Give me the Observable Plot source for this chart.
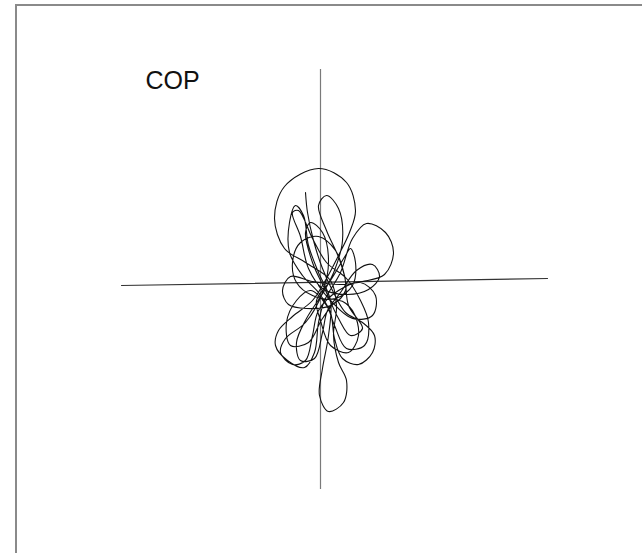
<!DOCTYPE html>
<html>
<head>
<meta charset="utf-8">
<script src="https://cdn.jsdelivr.net/npm/d3@7"></script>
<script src="https://cdn.jsdelivr.net/npm/@observablehq/plot@0.6"></script>
<style>
  html, body { margin: 0; padding: 0; background: #fff; }
  #wrap { position: relative; width: 642px; height: 553px; overflow: hidden; }
  #border { position: absolute; left: 15px; top: 4px; right: -10px; bottom: -10px;
            border-top: 2px solid #8a8a8a; border-left: 2px solid #8a8a8a; }
  #chart { position: absolute; left: 0; top: 0; }
</style>
</head>
<body>
<div id="wrap"><div id="border"></div><div id="chart"></div></div>
<script>
// Centre-of-pressure trace (arbitrary units, origin at crosshair, y up)
const copX = [-15,-13,-7,2,13,25,42,54,52,38,22,14,10,-2,-18,-31,-31,-25,-17,-12,-2,10,8,2,-1,8,23,26,18,13,16,10,-15,-36,-46,-36,-2,26,35,29,18,6,-8,-28,-42,-45,-33,-16,-6,-2,4,20,32,46,65,73,64,42,20,-8,-30,-38,-32,-14,10,25,20,6,-2,6,18,22,14,4,-14,-24,-20,-6,2,7,20,36,52,59,48,26,2,-12,-20,-28,-22,-8,6,26,40,48,44,26,14,6,-10,-24,-34,-30,-12,2,18,32,38,28,10,0,-4,10,25,30,
  35,32,15,-8,-24,-28,-20,-2,15,24,28,42,30,18,5,-8,-15,-10,2,8,2,-15,-35,-40,-28,-15,-8,-2,18,40,55,52,32,10,-2];
const copY = [91,71,43,15,-9,-29,-39,-52,-69,-81,-75,-55,-29,-9,8,31,61,78,68,38,11,-17,-52,-85,-112,-128,-119,-97,-79,-52,-22,3,21,35,65,97,115,101,73,51,28,5,-17,-33,-47,-62,-77,-84,-69,-39,-17,11,45,60,51,31,9,2,-1,2,7,-7,-21,-25,-22,-7,21,53,78,88,75,43,13,-7,-35,-59,-77,-75,-49,-27,-9,13,19,7,-6,-11,-5,15,47,71,73,45,21,5,-17,-39,-62,-65,-42,-22,-7,-17,-39,-62,-59,-35,-17,-27,-52,-69,-62,-37,-17,3,28,35,
  21,-2,-15,-12,1,21,41,47,33,8,-22,-45,-52,-35,-7,21,51,61,51,23,-9,-39,-55,-69,-81,-77,-52,-27,-7,1,-12,-32,-35,-17,-2];

// Crosshair extents
const hAxisX = [-199, 227];
const hAxisY = [-2, 5];
const vAxisY = [-206, 214];

const title = "COP";

const cop = copX.map((x, i) => ({x, y: copY[i]}));
const hAxis = hAxisX.map((x, i) => ({x, y: hAxisY[i]}));

const chart = Plot.plot({
  width: 642,
  height: 553,
  margin: 0,
  x: {domain: [-320, 322], axis: null},
  y: {domain: [-270, 283], axis: null},
  style: {background: "transparent", fontFamily: "'Liberation Sans', Arial, sans-serif"},
  marks: [
    Plot.ruleX([0], {y1: vAxisY[0], y2: vAxisY[1], stroke: "#7a7a7a", strokeWidth: 1.2}),
    Plot.line(hAxis, {x: "x", y: "y", stroke: "#333", strokeWidth: 1.2}),
    Plot.line(cop, {x: "x", y: "y", curve: "catmull-rom", stroke: "#111", strokeWidth: 1.1}),
    Plot.text([title], {frameAnchor: "top-left", dx: 145, dy: 88, text: d => d,
      textAnchor: "start", lineAnchor: "bottom", fontSize: 25, fill: "#111"})
  ]
});
document.getElementById("chart").appendChild(chart);
</script>
</body>
</html>
